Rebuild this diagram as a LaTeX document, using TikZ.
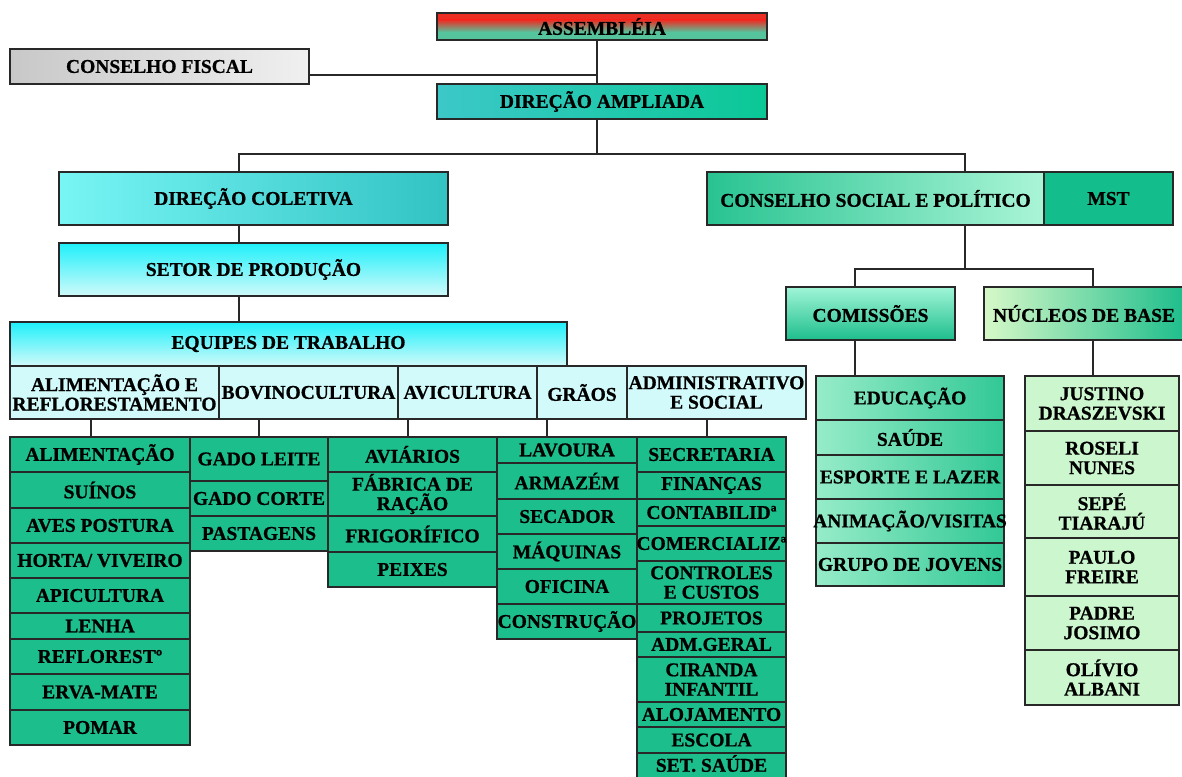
\documentclass[tikz,border=0pt]{standalone}
\usepackage{fontspec}
\setmainfont{Liberation Serif}[BoldFeatures={FakeBold=0.8}]
\definecolor{lc}{RGB}{40,40,40}
\definecolor{gr}{RGB}{28,190,140}
\definecolor{rowc}{RGB}{210,250,250}
\definecolor{nucc}{RGB}{204,246,206}
\definecolor{assr}{RGB}{235,45,35}
\definecolor{assg}{RGB}{85,195,155}
\newcommand\mkbox[7]{%
  \pgfmathsetmacro\bw{#4-#2}\pgfmathsetmacro\bh{#5-#3}%
  \pgfmathsetmacro\bcx{(#2+#4)/2}\pgfmathsetmacro\bcy{(#3+#5)/2}%
  \node[frame,#6,minimum width=\bw pt,minimum height=\bh pt] (#1) at (\bcx,\bcy) {};
  \node[lbl] (#1-t) at (#1.center) {#7};}
\tikzset{
  ln/.style={draw=lc, line width=1.5pt},
  frame/.style={draw=lc, line width=1.5pt, inner sep=0pt, outer sep=0pt, rectangle},
  lbl/.style={inner sep=0pt, align=center, text=black, font=\bfseries\fontsize{19.5}{19.5}\selectfont},
  grn/.style={fill=gr},
  rowbox/.style={fill=rowc},
  nucbox/.style={fill=nucc},
  combox/.style={left color={rgb,255:red,150;green,236;blue,200}, right color={rgb,255:red,50;green,200;blue,150}},
}
\begin{document}
\begin{tikzpicture}[x=1pt,y=-1pt]
\useasboundingbox[fill=white] (0,0) rectangle (1182,776);
% top
\node[frame,fill=assg,minimum width=330pt,minimum height=27pt] (assem) at (602,26.5) {};
\fill[assr] (assem.north west) rectangle ([yshift=-7pt]assem.north east);
\shade[top color=assr, bottom color=assg] ([yshift=-7pt]assem.north west) rectangle ([yshift=-19pt]assem.north east);
\draw[ln] (assem.north west) rectangle (assem.south east);
\node[lbl] (assem-t) at (assem.center) {ASSEMBLÉIA};
\mkbox{cf}{10}{49}{309}{84}{left color={rgb,255:red,200;green,200;blue,200}, right color={rgb,255:red,240;green,240;blue,240}}{CONSELHO FISCAL}
\mkbox{da}{437}{84}{767}{119}{left color={rgb,255:red,60;green,200;blue,200}, right color={rgb,255:red,10;green,200;blue,150}}{DIREÇÃO AMPLIADA}
\mkbox{dc}{59}{172}{448}{225}{left color={rgb,255:red,120;green,245;blue,245}, right color={rgb,255:red,50;green,195;blue,195}}{DIREÇÃO COLETIVA}
\mkbox{csp}{707}{172}{1044}{225}{left color={rgb,255:red,40;green,195;blue,145}, right color={rgb,255:red,170;green,245;blue,215}}{CONSELHO SOCIAL E POLÍTICO}
\mkbox{mst}{1044}{172}{1173}{225}{fill={rgb,255:red,20;green,190;blue,140}}{MST}
\mkbox{setor}{59}{243}{448}{296}{top color={rgb,255:red,30;green,240;blue,250}, bottom color={rgb,255:red,210;green,250;blue,250}}{SETOR DE PRODUÇÃO}
\mkbox{equipes}{10}{322}{567}{366}{top color={rgb,255:red,30;green,240;blue,250}, bottom color={rgb,255:red,210;green,250;blue,250}}{EQUIPES DE TRABALHO}
\mkbox{ra}{10}{366}{219}{419}{rowbox}{ALIMENTAÇÃO E\\REFLORESTAMENTO}
\mkbox{rb}{219}{366}{398}{419}{rowbox}{BOVINOCULTURA}
\mkbox{rc}{398}{366}{537}{419}{rowbox}{AVICULTURA}
\mkbox{rd}{537}{366}{627}{419}{rowbox}{GRÃOS}
\mkbox{re}{627}{366}{806}{419}{rowbox}{ADMINISTRATIVO\\E SOCIAL}
\mkbox{com}{786}{287}{955}{340}{top color={rgb,255:red,160;green,245;blue,215}, bottom color={rgb,255:red,30;green,190;blue,140}}{COMISSÕES}
\mkbox{nuc}{984}{287}{1184}{340}{left color={rgb,255:red,215;green,248;blue,200}, right color={rgb,255:red,30;green,190;blue,140}}{NÚCLEOS DE BASE}
% column 1
\mkbox{a1}{10}{437}{190}{472}{grn}{ALIMENTAÇÃO}
\mkbox{a2}{10}{472}{190}{508}{grn}{SUÍNOS}
\mkbox{a3}{10}{508}{190}{543}{grn}{AVES POSTURA}
\mkbox{a4}{10}{543}{190}{578}{grn}{HORTA/ VIVEIRO}
\mkbox{a5}{10}{578}{190}{613}{grn}{APICULTURA}
\mkbox{a6}{10}{613}{190}{639}{grn}{LENHA}
\mkbox{a7}{10}{639}{190}{674}{grn}{REFLORESTº}
\mkbox{a8}{10}{674}{190}{710}{grn}{ERVA-MATE}
\mkbox{a9}{10}{710}{190}{745}{grn}{POMAR}
% column 2
\mkbox{b1}{190}{437}{328}{481}{grn}{GADO LEITE}
\mkbox{b2}{190}{481}{328}{516}{grn}{GADO CORTE}
\mkbox{b3}{190}{516}{328}{551}{grn}{PASTAGENS}
% column 3
\mkbox{c1}{328}{437}{497}{472}{grn}{AVIÁRIOS}
\mkbox{c2}{328}{472}{497}{516}{grn}{FÁBRICA DE\\RAÇÃO}
\mkbox{c3}{328}{516}{497}{552}{grn}{FRIGORÍFICO}
\mkbox{c4}{328}{552}{497}{587}{grn}{PEIXES}
% column 4
\mkbox{d1}{497}{437}{637}{463}{grn}{LAVOURA}
\mkbox{d2}{497}{463}{637}{499}{grn}{ARMAZÉM}
\mkbox{d3}{497}{499}{637}{534}{grn}{SECADOR}
\mkbox{d4}{497}{534}{637}{569}{grn}{MÁQUINAS}
\mkbox{d5}{497}{569}{637}{604}{grn}{OFICINA}
\mkbox{d6}{497}{604}{637}{639}{grn}{CONSTRUÇÃO}
% column 5
\mkbox{e1}{637}{437}{786}{472}{grn}{SECRETARIA}
\mkbox{e2}{637}{472}{786}{499}{grn}{FINANÇAS}
\mkbox{e3}{637}{499}{786}{526}{grn}{CONTABILIDª}
\mkbox{e4}{637}{526}{786}{561}{grn}{COMERCIALIZª}
\mkbox{e5}{637}{561}{786}{604}{grn}{CONTROLES\\E CUSTOS}
\mkbox{e6}{637}{604}{786}{632}{grn}{PROJETOS}
\mkbox{e7}{637}{632}{786}{657}{grn}{ADM.GERAL}
\mkbox{e8}{637}{657}{786}{702}{grn}{CIRANDA\\INFANTIL}
\mkbox{e9}{637}{702}{786}{727}{grn}{ALOJAMENTO}
\mkbox{e10}{637}{727}{786}{753}{grn}{ESCOLA}
\node[frame,grn,minimum width=149pt,minimum height=26pt] (e11) at (711.5,766) {};
\node[lbl] (e11-t) at (711.5,763.5) {SET. SAÚDE};
% commissions
\mkbox{k1}{816}{376}{1004}{420}{combox}{EDUCAÇÃO}
\mkbox{k2}{816}{420}{1004}{455}{combox}{SAÚDE}
\mkbox{k3}{816}{455}{1004}{499}{combox}{ESPORTE E LAZER}
\mkbox{k4}{816}{499}{1004}{543}{combox}{ANIMAÇÃO/VISITAS}
\mkbox{k5}{816}{543}{1004}{586}{combox}{GRUPO DE JOVENS}
% nucleos
\mkbox{n1}{1025}{376}{1179}{431}{nucbox}{JUSTINO\\DRASZEVSKI}
\mkbox{n2}{1025}{431}{1179}{485}{nucbox}{ROSELI\\NUNES}
\mkbox{n3}{1025}{485}{1179}{538}{nucbox}{SEPÉ\\TIARAJÚ}
\mkbox{n4}{1025}{538}{1179}{596}{nucbox}{PAULO\\FREIRE}
\mkbox{n5}{1025}{596}{1179}{650}{nucbox}{PADRE\\JOSIMO}
\mkbox{n6}{1025}{650}{1179}{705}{nucbox}{OLÍVIO\\ALBANI}
% connectors
\coordinate (vj) at ([xshift=-5pt]da.north);
\draw[ln] ([xshift=-5pt]assem.south) -- (vj);
\draw[ln] ([yshift=-8.5pt]cf.east) -- ([yshift=-8.5pt]cf.east -| vj);
\draw[ln] ([xshift=-5pt]da.south) -- ++(0,35);
\draw[ln] ([xshift=-14.5pt]dc.north) -- ++(0,-18) -| ([xshift=89.5pt]csp.north);
\draw[ln] ([xshift=-14.5pt]dc.south) -- ([xshift=-14.5pt]setor.north);
\draw[ln] ([xshift=-14.5pt]setor.south) -- ([xshift=-14.5pt]setor.south |- equipes.north);
\draw[ln] ([xshift=-9pt]a1.north) -- ([xshift=-9pt]a1.north |- ra.south);
\draw[ln] (b1.north) -- (b1.north |- rb.south);
\draw[ln] ([xshift=-4.5pt]c1.north) -- ([xshift=-4.5pt]c1.north |- rc.south);
\draw[ln] ([xshift=-20pt]d1.north) -- ([xshift=-20pt]d1.north |- rd.south);
\draw[ln] ([xshift=-4.5pt]e1.north) -- ([xshift=-4.5pt]e1.north |- re.south);
\draw[ln] ([xshift=89.5pt]csp.south) -- ++(0,44);
\draw[ln] ([xshift=-15.5pt]com.north) -- ++(0,-18) -| ([xshift=9pt]nuc.north);
\draw[ln] ([xshift=-15.5pt]com.south) -- ([xshift=-15.5pt]com.south |- k1.north);
\draw[ln] ([xshift=9pt]nuc.south) -- ([xshift=9pt]nuc.south |- n1.north);
\end{tikzpicture}
\end{document}
